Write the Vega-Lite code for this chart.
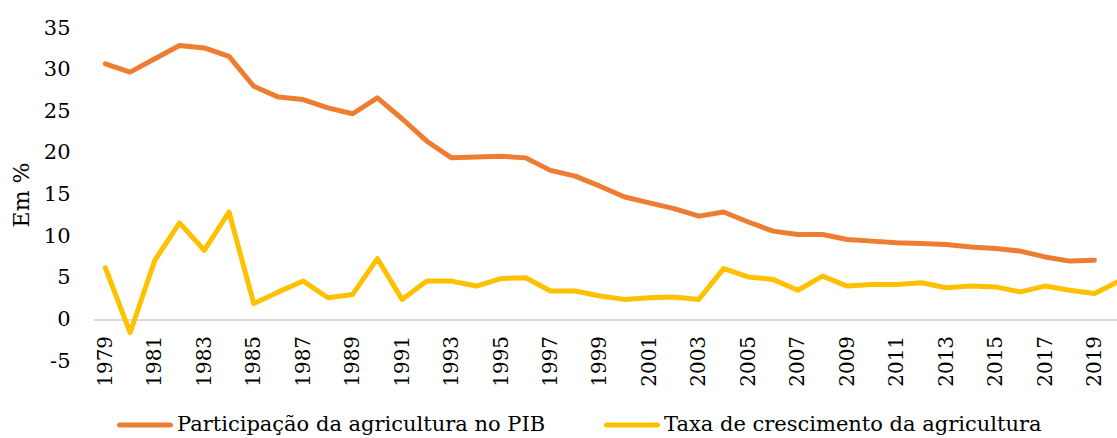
{
  "$schema": "https://vega.github.io/schema/vega-lite/v6.json",
  "width": 1024,
  "height": 333,
  "autosize": {"type": "none"},
  "padding": {"left": 93, "top": 28, "right": 0, "bottom": 77},
  "background": "white",
  "config": {
    "view": {"stroke": null},
    "axisX": {"labelFont": "DejaVu Serif", "labelFontSize": 20},
    "axisY": {"labelFont": "DejaVu Serif", "titleFont": "DejaVu Serif", "labelFontSize": 21, "titleFontSize": 22},
    "axis": {"labelColor": "#000000", "titleColor": "#000000", "titleFontWeight": "normal"},
    "legend": {"labelFont": "DejaVu Serif", "labelFontSize": 21, "labelColor": "#000000"}
  },
  "data": {
    "values": [
      {"ano": 1979, "pib": 30.7, "taxa": 6.2},
      {"ano": 1980, "pib": 29.7, "taxa": -1.6},
      {"ano": 1981, "pib": 31.3, "taxa": 7.1},
      {"ano": 1982, "pib": 32.9, "taxa": 11.6},
      {"ano": 1983, "pib": 32.6, "taxa": 8.3},
      {"ano": 1984, "pib": 31.6, "taxa": 12.9},
      {"ano": 1985, "pib": 28.0, "taxa": 1.9},
      {"ano": 1986, "pib": 26.7, "taxa": 3.3},
      {"ano": 1987, "pib": 26.4, "taxa": 4.6},
      {"ano": 1988, "pib": 25.4, "taxa": 2.6},
      {"ano": 1989, "pib": 24.7, "taxa": 3.0},
      {"ano": 1990, "pib": 26.6, "taxa": 7.3},
      {"ano": 1991, "pib": 24.1, "taxa": 2.4},
      {"ano": 1992, "pib": 21.4, "taxa": 4.6},
      {"ano": 1993, "pib": 19.4, "taxa": 4.6},
      {"ano": 1994, "pib": 19.5, "taxa": 4.0},
      {"ano": 1995, "pib": 19.6, "taxa": 4.9},
      {"ano": 1996, "pib": 19.4, "taxa": 5.0},
      {"ano": 1997, "pib": 17.9, "taxa": 3.4},
      {"ano": 1998, "pib": 17.2, "taxa": 3.4},
      {"ano": 1999, "pib": 16.0, "taxa": 2.8},
      {"ano": 2000, "pib": 14.7, "taxa": 2.4},
      {"ano": 2001, "pib": 14.0, "taxa": 2.6},
      {"ano": 2002, "pib": 13.3, "taxa": 2.7},
      {"ano": 2003, "pib": 12.4, "taxa": 2.4},
      {"ano": 2004, "pib": 12.9, "taxa": 6.1},
      {"ano": 2005, "pib": 11.7, "taxa": 5.1},
      {"ano": 2006, "pib": 10.6, "taxa": 4.8},
      {"ano": 2007, "pib": 10.2, "taxa": 3.5},
      {"ano": 2008, "pib": 10.2, "taxa": 5.2},
      {"ano": 2009, "pib": 9.6, "taxa": 4.0},
      {"ano": 2010, "pib": 9.4, "taxa": 4.2},
      {"ano": 2011, "pib": 9.2, "taxa": 4.2},
      {"ano": 2012, "pib": 9.1, "taxa": 4.4},
      {"ano": 2013, "pib": 9.0, "taxa": 3.8},
      {"ano": 2014, "pib": 8.7, "taxa": 4.0},
      {"ano": 2015, "pib": 8.5, "taxa": 3.9},
      {"ano": 2016, "pib": 8.2, "taxa": 3.3},
      {"ano": 2017, "pib": 7.5, "taxa": 4.0},
      {"ano": 2018, "pib": 7.0, "taxa": 3.5},
      {"ano": 2019, "pib": 7.1, "taxa": 3.1},
      {"ano": 2020, "pib": null, "taxa": 4.6}
    ]
  },
  "transform": [
    {"fold": ["pib", "taxa"], "as": ["serie_id", "valor"]},
    {"filter": "isValid(datum.valor)"},
    {"lookup": "serie_id", "from": {"data": {"values": [
      {"serie_id": "pib", "serie": "Participação da agricultura no PIB"},
      {"serie_id": "taxa", "serie": "Taxa de crescimento da agricultura"}
    ]}, "key": "serie_id", "fields": ["serie"]}}
  ],
  "mark": {"type": "line", "strokeWidth": 5, "strokeJoin": "round", "strokeCap": "round", "clip": true},
  "encoding": {
    "x": {
      "field": "ano", "type": "quantitative",
      "scale": {"domain": [1978.5, 2019.91], "nice": false, "zero": false},
      "axis": {
        "title": null, "grid": false, "ticks": false, "tickSize": 0,
        "offset": -41.6,
        "values": [1979, 1981, 1983, 1985, 1987, 1989, 1991, 1993, 1995, 1997, 1999, 2001, 2003, 2005, 2007, 2009, 2011, 2013, 2015, 2017, 2019],
        "labelExpr": "'' + datum.value",
        "labelAngle": -90, "labelPadding": 16,
        "domainColor": "#d9d9d9", "domainWidth": 2,
        "labelOverlap": false, "labelFlush": false
      }
    },
    "y": {
      "field": "valor", "type": "quantitative",
      "scale": {"domain": [-5, 35], "nice": false, "zero": false},
      "axis": {
        "title": "Em %", "grid": false, "ticks": false, "tickSize": 0, "domain": false,
        "values": [-5, 0, 5, 10, 15, 20, 25, 30, 35],
        "labelExpr": "'' + datum.value",
        "labelPadding": 23, "titlePadding": 10
      }
    },
    "color": {
      "field": "serie", "type": "nominal",
      "scale": {"domain": ["Participação da agricultura no PIB", "Taxa de crescimento da agricultura"], "range": ["#ED7D31", "#FFC000"]},
      "legend": {
        "title": null, "orient": "none", "direction": "horizontal",
        "legendX": 24, "legendY": 369,
        "symbolType": "stroke", "symbolSize": 2601, "symbolStrokeWidth": 5,
        "labelOffset": 4, "columnPadding": 50, "labelLimit": 600, "padding": 0,
        "encode": {"symbols": {"update": {"strokeCap": {"value": "round"}}}}
      }
    }
  }
}
